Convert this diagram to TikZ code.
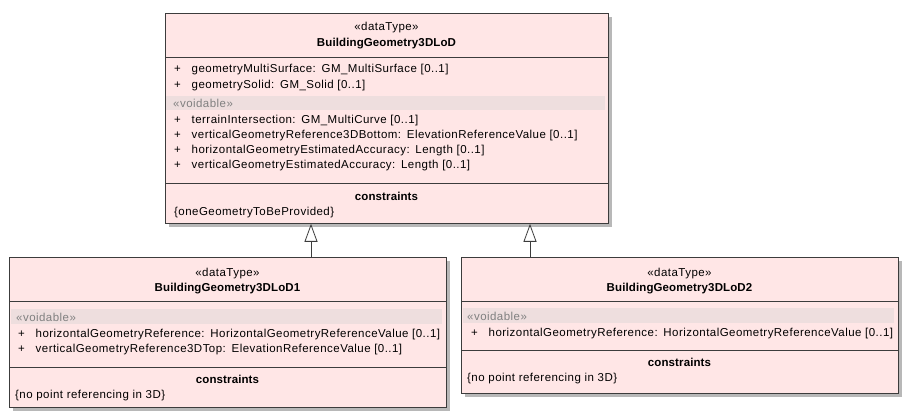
\documentclass[tikz,border=0pt]{standalone}
\usepackage{fontspec}
\setmainfont{Liberation Sans}
\newfontfamily\umlfont[LetterSpace=4.0]{Liberation Sans}
\newfontfamily\umlbold[LetterSpace=1.0]{Liberation Sans Bold}
\usetikzlibrary{arrows.meta,positioning,shadows}
\definecolor{umlfill}{HTML}{FFE6E6}
\definecolor{umlline}{HTML}{3C3C3C}
\definecolor{voidfill}{HTML}{EEDEDE}
\definecolor{voidtext}{HTML}{808080}
\definecolor{shadowgray}{HTML}{B8B8B8}

\begin{document}
\begin{tikzpicture}[x=1pt, y=-1pt,
    % ---------- styles ----------
    cls/.style={draw=umlline, fill=umlfill, line width=0.8pt, anchor=north west,
      inner sep=0pt, general shadow={fill=shadowgray, shadow xshift=4pt, shadow yshift=-4pt}},
    sep/.style={draw=umlline, line width=0.8pt},
    band/.style={fill=voidfill},
    txt/.style={inner sep=0pt, text height=8pt, text depth=2.5pt,
      font=\fontsize{11.5}{13}\umlfont},
    attr/.style={txt, anchor=west},
    stereo/.style={txt, anchor=center},
    cname/.style={txt, anchor=center, font=\fontsize{11.5}{13}\umlbold},
    vd/.style={txt, anchor=west, text=voidtext},
    gen/.style={-{Triangle[open, length=18pt, width=13pt]}, draw=umlline, line width=0.8pt}
]

\def\pl{\makebox[17.5pt][l]{+}}

% ====== fondo / bounding box ======
\fill[white] (0,0) rectangle (913,414);
\useasboundingbox (0,0) rectangle (913,414);

% ====== BuildingGeometry3DLoD ======
\node[cls, minimum width=443pt, minimum height=210pt] (base) at (165,13) {};
\draw[sep] (165,57) -- (608,57);
\fill[band] (166,96) rectangle (605,110);
\draw[sep] (165,183) -- (608,183);
\node[stereo] (baseST) at (386.5,28) {«dataType»};
\node[cname] (baseN) at (386.5,44) {BuildingGeometry3DLoD};
\node[attr] (baseA1) at (174,70) {\pl geometryMultiSurface:\enspace GM\_MultiSurface [0..1]};
\node[attr] (baseA2) at (174,86) {\pl geometrySolid:\enspace GM\_Solid [0..1]};
\node[vd] (baseV) at (173,104.5) {«voidable»};
\node[attr] (baseA3) at (174,120.5) {\pl terrainIntersection:\enspace GM\_MultiCurve [0..1]};
\node[attr] (baseA4) at (174,135.5) {\pl verticalGeometryReference3DBottom:\enspace ElevationReferenceValue [0..1]};
\node[attr] (baseA5) at (174,150.5) {\pl horizontalGeometryEstimatedAccuracy:\enspace Length [0..1]};
\node[attr] (baseA6) at (174,165.5) {\pl verticalGeometryEstimatedAccuracy:\enspace Length [0..1]};
\node[cname] (baseC) at (386.5,197.5) {constraints};
\node[attr] (baseC1) at (174,212.5) {\{oneGeometryToBeProvided\}};

% ====== BuildingGeometry3DLoD1 ======
\node[cls, minimum width=437pt, minimum height=150pt] (lod1) at (9,257) {};
\draw[sep] (9,301) -- (446,301);
\fill[band] (11,309) rectangle (442,324);
\draw[sep] (9,367) -- (446,367);
\node[stereo] (lod1ST) at (227.5,273.5) {«dataType»};
\node[cname] (lod1N) at (227.5,288.5) {BuildingGeometry3DLoD1};
\node[vd] (lod1V) at (16,318.5) {«voidable»};
\node[attr] (lod1A1) at (18,334.5) {\pl horizontalGeometryReference:\enspace HorizontalGeometryReferenceValue [0..1]};
\node[attr] (lod1A2) at (18,349.5) {\pl verticalGeometryReference3DTop:\enspace ElevationReferenceValue [0..1]};
\node[cname] (lod1C) at (227.5,380.5) {constraints};
\node[attr] (lod1C1) at (15,395.5) {\{no point referencing in 3D\}};

% ====== BuildingGeometry3DLoD2 ======
\node[cls, minimum width=437pt, minimum height=136pt] (lod2) at (461,257) {};
\draw[sep] (461,301) -- (898,301);
\fill[band] (463,308) rectangle (894,323);
\draw[sep] (461,350) -- (898,350);
\node[stereo] (lod2ST) at (679.5,273.5) {«dataType»};
\node[cname] (lod2N) at (679.5,288.5) {BuildingGeometry3DLoD2};
\node[vd] (lod2V) at (467,317.5) {«voidable»};
\node[attr] (lod2A1) at (471,333.5) {\pl horizontalGeometryReference:\enspace HorizontalGeometryReferenceValue [0..1]};
\node[cname] (lod2C) at (679.5,363.5) {constraints};
\node[attr] (lod2C1) at (467,378.5) {\{no point referencing in 3D\}};

% ====== Generalizaciones ======
\draw[gen] ([xshift=302pt]lod1.north west) -- ([xshift=302pt]lod1.north west |- base.south);
\draw[gen] ([xshift=69pt]lod2.north west) -- ([xshift=69pt]lod2.north west |- base.south);

\end{tikzpicture}
\end{document}
